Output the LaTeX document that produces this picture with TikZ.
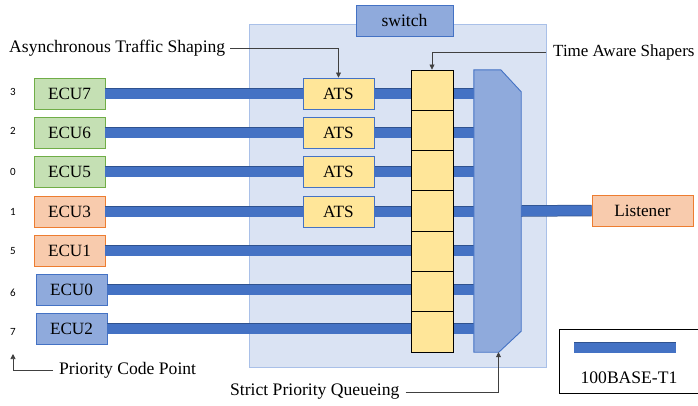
\documentclass[tikz,border=0pt]{standalone}
\usepackage{fontspec}
\setmainfont{Liberation Serif}
\newfontfamily\tnr{Liberation Serif}
\newfontfamily\numfont{Carlito}
\usetikzlibrary{arrows.meta}
\definecolor{linkblue}{HTML}{4472C4}
\definecolor{linkdark}{HTML}{2F528F}
\definecolor{gfill}{HTML}{C5E0B4}
\definecolor{gdraw}{HTML}{70AD47}
\definecolor{ofill}{HTML}{F8CBAD}
\definecolor{odraw}{HTML}{ED7D31}
\definecolor{bfill}{HTML}{8FAADC}
\definecolor{swbg}{HTML}{DAE3F3}
\definecolor{swdraw}{HTML}{A9C0E8}
\definecolor{yfill}{HTML}{FFE699}
\definecolor{anno}{HTML}{404040}
\tikzset{
  box/.style={rectangle, minimum width=71pt, minimum height=31pt, inner sep=0pt, line width=0.9pt, font=\tnr\fontsize{17.2}{17.2}\selectfont},
  ecug/.style={box, fill=gfill, draw=gdraw},
  ecuo/.style={box, fill=ofill, draw=odraw},
  ecub/.style={box, fill=bfill, draw=linkblue},
  atsbox/.style={box, fill=yfill, draw=linkblue},
  qcell/.style={rectangle, minimum width=42pt, minimum height=40.3pt, inner sep=0pt, fill=yfill, draw=black, line width=0.9pt},
  link/.style={draw=linkblue, line width=10pt, preaction={draw=linkdark, line width=11.5pt}},
  pcpnum/.style={font=\numfont\fontsize{11}{11}\selectfont, inner sep=0pt},
  annot/.style={draw=anno, line width=0.7pt, -{Triangle[width=5pt,length=5pt]}},
  lbl/.style={font=\tnr\fontsize{17.6}{17.6}\selectfont, inner sep=0pt}
}
\begin{document}
\begin{tikzpicture}[x=1pt,y=-1pt]
\useasboundingbox (0,0) rectangle (698,405);
% switch background
\node[rectangle, fill=swbg, draw=swdraw, line width=0.9pt, minimum width=297pt, minimum height=343pt, inner sep=0pt] (sw) at (397.5,195.5) {};
\node[rectangle, fill=bfill, draw=linkblue, line width=0.9pt, minimum width=97pt, minimum height=31pt, inner sep=0pt, font=\tnr\fontsize{17.6}{17.6}\selectfont] (swl) at (404.5,20.5) {switch};
% ECUs
\node[ecug] (e7) at (69.5,93.5) {ECU7};
\node[ecug] (e6) at (69.5,132.5) {ECU6};
\node[ecug] (e5) at (69.5,171.5) {ECU5};
\node[ecuo] (e3) at (69.5,211.5) {ECU3};
\node[ecuo] (e1) at (69.5,250.5) {ECU1};
\node[ecub] (e0) at (71.5,289.5) {ECU0};
\node[ecub] (e2) at (71.5,328.5) {ECU2};
% PCP numbers
\node[pcpnum] (n7) at (13,92) {3};
\node[pcpnum] (n6) at (13,131) {2};
\node[pcpnum] (n5) at (13,172) {0};
\node[pcpnum] (n3) at (13,212) {1};
\node[pcpnum] (n1) at (13,251) {5};
\node[pcpnum] (n0) at (13,293) {6};
\node[pcpnum] (n2) at (13,332) {7};
% queue
\foreach \i in {1,...,7} {
  \node[qcell] (q\i) at (432,{70+40.3*(\i-0.5)}) {};
}
% mux placeholder
\node[rectangle, minimum width=47pt, minimum height=282pt, inner sep=0pt] (mux) at (497.5,211) {};
% ATS positions
\path (338.5,93.5) node[atsbox] (a7) {}
      (338.5,132.5) node[atsbox] (a6) {}
      (338.5,171.5) node[atsbox] (a5) {}
      (338.5,211.5) node[atsbox] (a3) {};
% listener
\node[ecuo, minimum width=101pt] (lis) at (642.5,210.5) {Listener};
% links
\foreach \e/\a/\q in {e7/a7/q1, e6/a6/q2, e5/a5/q3, e3/a3/q4} {
  \draw[link] (\e.east) -- (\a.west);
  \draw[link] (\a.east) -- (\a.east -| \q.west);
}
\draw[link] (e1.east) -- (e1.east -| q5.west);
\draw[link] (e0.east) -- (e0.east -| q6.west);
\draw[link] (e2.east) -- (e2.east -| q7.west);
\foreach \e/\q in {e7/q1, e6/q2, e5/q3, e3/q4, e1/q5, e0/q6, e2/q7} {
  \draw[link] (\e.east -| \q.east) -- (\e.east -| mux.west);
}
\draw[link] (mux.east) -- (lis.west);
% ATS boxes and queue on top
\foreach \a in {a7,a6,a5,a3} {
  \node[atsbox] at (\a) {ATS};
}
\foreach \i in {1,...,7} {
  \node[qcell] at (q\i) {};
}
% mux shape
\draw[fill=bfill, draw=linkblue, line width=0.9pt]
  (mux.north west) -- ([xshift=27pt]mux.north west) -- ([yshift=-22pt]mux.north east)
  -- ([yshift=21pt]mux.south east) -- ([xshift=25pt]mux.south west) -- (mux.south west) -- cycle;
% annotations
\node[lbl, anchor=west] (atsl) at (9,48) {Asynchronous Traffic Shaping};
\draw[annot] ([xshift=5pt]atsl.east) -| (a7.north);
\node[lbl, anchor=west, font=\tnr\fontsize{17}{17}\selectfont] (tasl) at (553,52) {Time Aware Shapers};
\draw[annot] (tasl.west -| sw.east) -| (q1.north);
\node[lbl, anchor=west] (pcpl) at (59,370) {Priority Code Point};
\coordinate (pcpt) at (13,354);
\draw[annot] ([xshift=-6pt]pcpl.west) -| (pcpt);
\node[lbl, anchor=west] (spql) at (230,392) {Strict Priority Queueing};
\draw[annot] ([xshift=6pt]spql.east) -| ([xshift=1pt]mux.south);
% legend
\node[rectangle, draw=black, line width=0.9pt, minimum width=140pt, minimum height=64pt, inner sep=0pt] (leg) at (629,361) {};
\coordinate (lg1) at (574,347.5);
\coordinate (lg2) at (676,347.5);
\draw[link] (lg1) -- (lg2);
\node[lbl] (legt) at (629,378) {100BASE-T1};
\end{tikzpicture}
\end{document}
